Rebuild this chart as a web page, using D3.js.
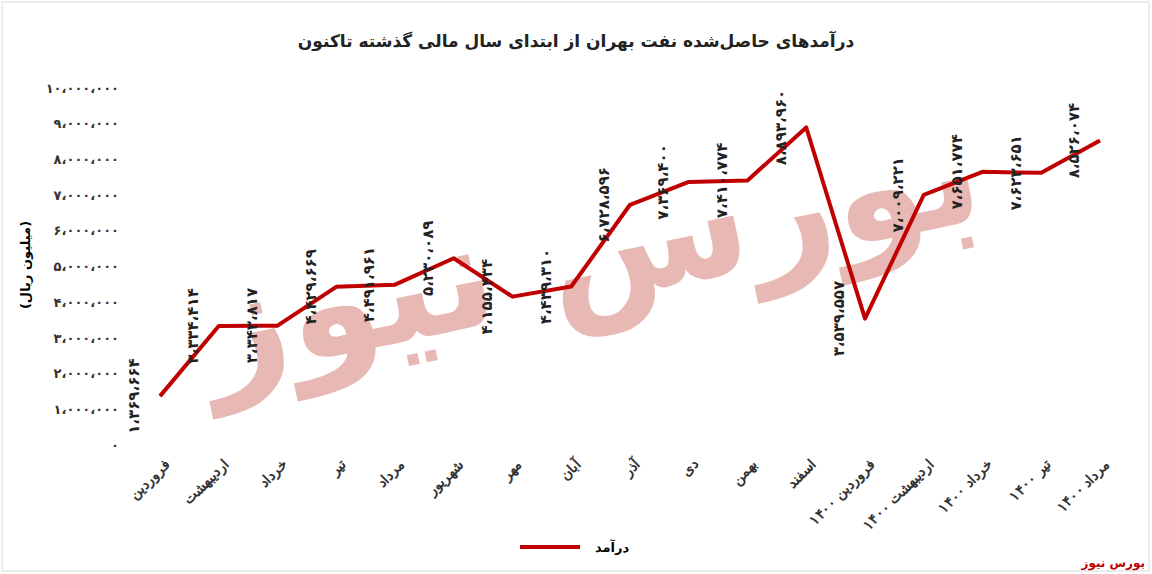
<!DOCTYPE html>
<html><head><meta charset="utf-8">
<script src="https://cdn.jsdelivr.net/npm/d3@7"></script>
<style>body{margin:0;background:#fff;font-family:"DejaVu Sans",sans-serif}</style>
</head><body><svg id="c" width="1152" height="574"></svg>
<script>
const categories=["فروردین","اردیبهشت","خرداد","تیر","مرداد","شهریور","مهر","آبان","آذر","دی","بهمن","اسفند","فروردین ۱۴۰۰","اردیبهشت ۱۴۰۰","خرداد ۱۴۰۰","تیر ۱۴۰۰","مرداد ۱۴۰۰"];
const revenue=[1369664,3334414,3343817,4429669,4491961,5230089,4155434,4439310,6728596,7369400,7410774,8893960,3539557,7009221,7651774,7623651,8526074];
const yTicks=[0,1e6,2e6,3e6,4e6,5e6,6e6,7e6,8e6,9e6,1e7];
const fa=s=>String(s).replace(/\d/g,d=>"۰۱۲۳۴۵۶۷۸۹"[d]);
const fmt=v=>"\u202D"+fa(d3.format(",")(v).replace(/,/g,"،"))+"\u202C";
const svg=d3.select("#c");
svg.append("rect").attr("x",2).attr("y",2).attr("width",1147).attr("height",569).attr("fill","#fff").attr("stroke","#d9d9d9");
// watermark
const wm=svg.append("g").attr("opacity",0.35).attr("fill","#c0392b");
wm.append("text").attr("x",600).attr("y",300).attr("text-anchor","middle").attr("font-size",150).attr("font-weight","bold").attr("transform","rotate(-12,600,300)").text("بورس نیوز");
const x=d3.scalePoint().domain(categories).range([160,1100]);
const y=d3.scaleLinear().domain([0,1e7]).range([445,88]);
svg.append("text").attr("x",576).attr("y",47).attr("text-anchor","middle").attr("font-size",17).attr("font-weight","bold").attr("fill","#222").text("درآمدهای حاصل‌شده نفت بهران از ابتدای سال مالی گذشته تاکنون");
const ya=svg.append("g").attr("transform","translate(122,0)").call(d3.axisLeft(y).tickValues(yTicks).tickSize(0).tickFormat(fmt));
ya.select(".domain").remove();
ya.selectAll("text").attr("font-size",13).attr("font-weight","bold").attr("fill","#333").attr("font-family","DejaVu Sans");
svg.append("text").attr("transform","translate(30,265) rotate(-90)").attr("text-anchor","middle").attr("font-size",13).attr("font-weight","bold").text("(میلیون ریال)");
const xa=svg.append("g").attr("transform","translate(0,455)").call(d3.axisBottom(x).tickSize(0));
xa.select(".domain").remove();
xa.selectAll("text").attr("font-size",14).attr("font-weight","bold").attr("fill","#333").attr("text-anchor","end").attr("dy",0).attr("transform","translate(8,8) rotate(-45)");
svg.append("path").datum(revenue).attr("fill","none").attr("stroke","#c00000").attr("stroke-width",4).attr("stroke-linejoin","round")
 .attr("d",d3.line().x((d,i)=>x(categories[i])).y(d=>y(d)));
svg.append("g").selectAll("text").data(revenue).join("text")
 .attr("transform",(d,i)=>`translate(${x(categories[i])-26},${y(d)}) rotate(-90)`)
 .attr("text-anchor","middle").attr("font-size",15).attr("font-weight","bold").attr("fill","#222").attr("dy","0.35em").text(fmt);
svg.append("line").attr("x1",520).attr("x2",580).attr("y1",547).attr("y2",547).attr("stroke","#c00000").attr("stroke-width",4);
svg.append("text").attr("x",612).attr("y",552).attr("text-anchor","middle").attr("font-size",13).attr("font-weight","bold").text("درآمد");
svg.append("text").attr("x",1145).attr("y",567).attr("text-anchor","end").attr("font-size",12).attr("font-weight","bold").attr("fill","#c00000").text("بورس نیوز");
</script></body></html>
